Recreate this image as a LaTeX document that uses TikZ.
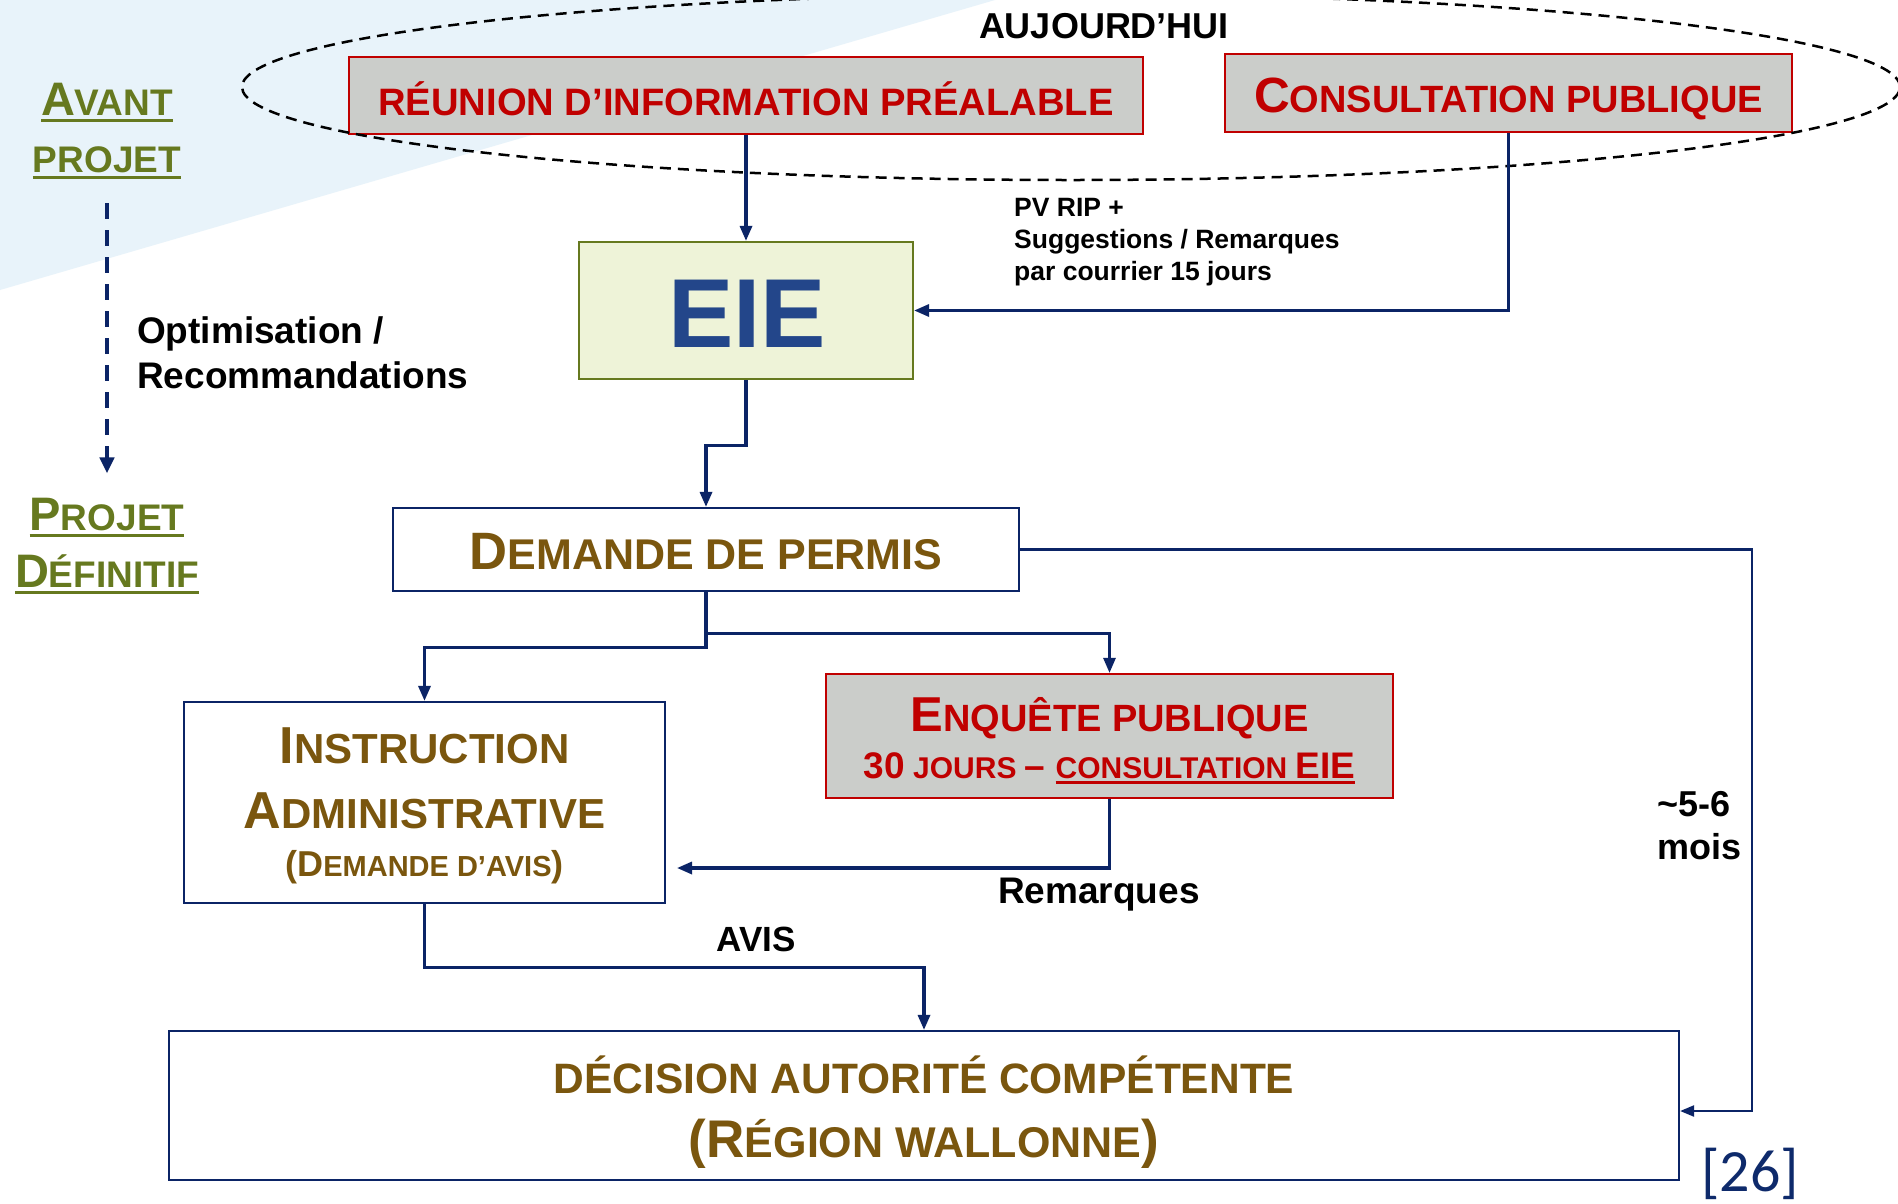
\documentclass[tikz,border=0pt]{standalone}
\usepackage{fontspec}
\setmainfont{Liberation Sans}
\newfontfamily\calibfont{Carlito}
\usetikzlibrary{arrows.meta}
\definecolor{navy}{HTML}{0B2466}
\definecolor{rred}{HTML}{C00000}
\definecolor{gbox}{HTML}{CBCDCA}
\definecolor{oliveg}{HTML}{66791F}
\definecolor{brownt}{HTML}{7A560E}
\definecolor{eiefill}{HTML}{EEF3D8}
\definecolor{eieblue}{HTML}{23468A}
\definecolor{bgblue}{HTML}{E8F3FA}
\definecolor{refblue}{HTML}{0E2A6B}
\newcommand\fsz[1]{\fontsize{#1}{#1}\selectfont}
\newcommand\myul[2][7]{\setbox0\hbox{#2}\rlap{\rule[-#1pt]{\wd0}{3.5pt}}\box0}
\begin{document}
\begin{tikzpicture}[x=1pt,y=-1pt,
  box/.style={draw, rectangle, inner sep=0pt, line width=2.2pt},
  redbox/.style={box, draw=rred, fill=gbox},
  navybox/.style={box, draw=navy, fill=white},
  eiebox/.style={box, draw=oliveg, fill=eiefill},
  txt/.style={inner sep=0pt, anchor=base, font=\bfseries},
  blk/.style={inner sep=0pt, anchor=north west, align=left},
  conn/.style={draw=navy, line width=3.2pt, -{Triangle[length=15pt,width=12pt]}},
  connmid/.style={draw=navy, line width=2.8pt, -{Triangle[length=15pt,width=12pt]}},
  connthin/.style={draw=navy, line width=2.3pt, -{Triangle[length=14pt,width=11pt]}},
  dasharr/.style={draw=navy, line width=4pt, dash pattern=on 16pt off 11pt, -{Triangle[length=16pt,width=14pt]}},
  ell/.style={draw=black, line width=2.5pt, dash pattern=on 11pt off 7pt}
]
\useasboundingbox (0,0) rectangle (1898,1203);
\fill[white] (0,0) rectangle (1898,1203);
\fill[bgblue] (0,0) -- (995,0) -- (0,290) -- cycle;

% boxes
\node[redbox, minimum width=794pt, minimum height=77pt] (rip) at (746,95.5) {};
\node[redbox, minimum width=567pt, minimum height=78pt] (cons) at (1508.5,93) {};
\node[eiebox, minimum width=334pt, minimum height=137pt] (eie) at (746,310.5) {};
\node[navybox, minimum width=626pt, minimum height=83pt] (dem) at (706,549.5) {};
\node[navybox, minimum width=481pt, minimum height=201pt] (instr) at (424.5,802.5) {};
\node[redbox, minimum width=567pt, minimum height=124pt] (enq) at (1109.5,736) {};
\node[navybox, minimum width=1510pt, minimum height=149pt] (dec) at (924,1105.5) {};

% ellipse
\draw[ell] (1071,87) ellipse [x radius=829pt, y radius=93pt];

% texts in boxes
\node[txt, text=rred] (riptxt) at (746,115) {\fsz{38.2}RÉUNION D’INFORMATION PRÉALABLE};
\node[txt, text=rred] (constxt) at (1508.5,112) {\fsz{49.5}C\fsz{38}ONSULTATION PUBLIQUE};
\node[txt, text=eieblue] (eietxt) at (747,347) {\fsz{98}EIE};
\node[txt, text=brownt] (demtxt) at (706,569) {\fsz{52.6}D\fsz{43}EMANDE DE PERMIS};
\node[txt, text=brownt] (instr1) at (424.5,763) {\fsz{52}I\fsz{42}NSTRUCTION};
\node[txt, text=brownt] (instr2) at (424.5,828) {\fsz{52}A\fsz{42}DMINISTRATIVE};
\node[txt, text=brownt] (instr3) at (424.5,876) {\fsz{36}(D\fsz{29}EMANDE D’AVIS\fsz{36})};
\node[txt, text=rred] (enq1) at (1109.5,731) {\fsz{49}E\fsz{38}NQUÊTE PUBLIQUE};
\node[txt, text=rred] (enq2) at (1109.5,778) {\fsz{37}30\fsz{30} JOURS \fsz{37}– \myul[6]{\fsz{30}CONSULTATION \fsz{37}EIE}};
\node[txt, text=brownt] (dec1) at (924,1093) {\fsz{42.5}DÉCISION AUTORITÉ COMPÉTENTE};
\node[txt, text=brownt] (dec2) at (924,1157) {\fsz{53}(R\fsz{43}ÉGION WALLONNE\fsz{53})};

% side texts
\node[txt] (auj) at (1104,38) {\fsz{36}AUJOURD’HUI};
\node[txt, text=oliveg] (avant) at (107,115) {\myul{\fsz{47}A\fsz{37}VANT}};
\node[txt, text=oliveg] (avproj) at (107,172) {\myul{\fsz{37}PROJET}};
\node[txt, text=oliveg] (pdproj) at (107,530) {\myul{\fsz{47}P\fsz{37}ROJET}};
\node[txt, text=oliveg] (pddef) at (107,587) {\myul{\fsz{47}D\fsz{37}ÉFINITIF}};
\node[blk, font=\bfseries\fontsize{37}{45}\selectfont] (opt) at (137,316) {Optimisation /\\Recommandations};
\node[blk, font=\bfseries\fontsize{26.5}{32}\selectfont] (pv) at (1014,198.5) {PV RIP +\\Suggestions / Remarques\\par courrier 15 jours};
\node[txt] (rem) at (1099,903) {\fsz{37}Remarques};
\node[txt] (avis) at (756,951) {\fsz{35}AVIS};
\node[blk, font=\bfseries\fontsize{36}{43}\selectfont] (mois) at (1657,791) {\textasciitilde5-6\\mois};
\node[inner sep=0pt, anchor=base west, text=refblue, font=\calibfont\fontsize{60}{60}\selectfont] (ref) at (1701,1191) {[26]};

% connectors
\coordinate (remtip) at (677,868);
\coordinate (rr) at (1752,1111);
\draw[conn] (rip.south) -- (eie.north);
\draw[conn] (cons.south) |- (eie.east);
\draw[conn] (eie.south) -- ++(0,65) -| (dem.north);
\draw[conn] (dem.south) -- ++(0,55) -| (instr.north);
\draw[connmid] (dem.south) -- ++(0,41) -| (enq.north);
\draw[conn] (enq.south) |- (remtip);
\draw[conn] (instr.south) -- ++(0,63) -| (dec.north);
\draw[connthin] (dem.east) -| (rr) -- (rr -| dec.east);
\draw[dasharr, shorten <=24pt, shorten >=24pt] (avproj.south) -- (pdproj.north);
\end{tikzpicture}
\end{document}
